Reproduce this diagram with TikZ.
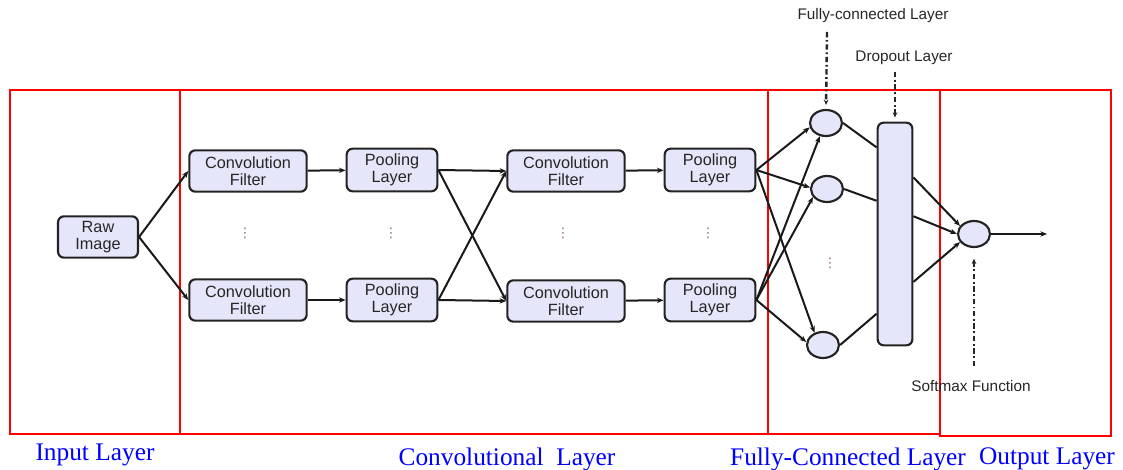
\documentclass[tikz,border=0pt]{standalone}
\usepackage{fontspec}
\setmainfont{Liberation Serif}
\setsansfont{Liberation Sans}
\newfontfamily\dotsfont{DejaVu Sans}
\usetikzlibrary{arrows.meta,shapes.geometric}

\definecolor{boxfill}{RGB}{230,230,250}
\definecolor{boxline}{RGB}{35,35,35}
\definecolor{dotcol}{RGB}{140,110,100}

\tikzset{every picture/.style={line width=0.75pt},
  block/.style={draw=boxline, line width=1.6pt, rounded corners=4.5pt, fill=boxfill,
    align=center, text=black!85, inner sep=0pt,
    font=\sffamily\fontsize{12.2}{12.75}\selectfont},
  neuron/.style={draw=boxline, line width=1.6pt, ellipse, fill=boxfill, inner sep=0pt,
    minimum width=24pt, minimum height=19.5pt},
  conn/.style={draw=black!90, line width=1.5pt, -{Stealth[length=5pt,width=4pt]}},
  link/.style={draw=black!90, line width=1.5pt},
  hint/.style={draw=black!85, line width=1.8pt, dash pattern={on 4pt off 2pt on 1.3pt off 2pt},
    -{Stealth[length=4pt,width=3.5pt]}},
  region/.style={draw=red, line width=0.9pt},
  caption/.style={text=blue, inner sep=0pt, font=\fontsize{19}{20}\selectfont},
  note/.style={text=black!85, inner sep=0pt, font=\sffamily\fontsize{11.5}{12}\selectfont},
  vdot/.style={text=dotcol, inner sep=0pt, font=\dotsfont\fontsize{10}{10}\selectfont}
}

\begin{document}
\begin{tikzpicture}[x=0.75pt,y=0.75pt,yscale=-1]
\useasboundingbox (0,0) rectangle (1123,470);

% layer frames
\draw[region] (10,90) rectangle (180,434);
\draw[region] (180,90) rectangle (768,434);
\draw[region] (768,90) rectangle (940,434);
\draw[region] (940,90) rectangle (1111,436);

% input
\node[block, minimum width=60pt, minimum height=31pt] (raw) at (98,237) {Raw\\Image};

% first convolution / pooling column
\node[block, minimum width=88pt, minimum height=31pt] (convA) at (248,171) {Convolution\\Filter};
\node[block, minimum width=88pt, minimum height=31pt] (convB) at (248,300) {Convolution\\Filter};
\node[block, minimum width=68pt, minimum height=32pt] (poolA) at (392,170) {Pooling\\Layer};
\node[block, minimum width=68pt, minimum height=32pt] (poolB) at (392,300) {Pooling\\Layer};

% second convolution / pooling column
\node[block, minimum width=88pt, minimum height=31pt] (convC) at (566,171) {Convolution\\Filter};
\node[block, minimum width=88pt, minimum height=31pt] (convD) at (566,301) {Convolution\\Filter};
\node[block, minimum width=68pt, minimum height=32pt] (poolC) at (710,170) {Pooling\\Layer};
\node[block, minimum width=68pt, minimum height=32pt] (poolD) at (710,300) {Pooling\\Layer};

% dots
\node[vdot] (dotsA) at (245,233) {⋮};
\node[vdot] (dotsB) at (391,233) {⋮};
\node[vdot] (dotsC) at (563,233) {⋮};
\node[vdot] (dotsD) at (708,233) {⋮};
\node[vdot] (dotsE) at (830,263) {⋮};

% fully connected part
\node[neuron] (fcA) at (826,123) {};
\node[neuron] (fcB) at (827,189) {};
\node[neuron] (fcC) at (823,345) {};
\node[block, minimum width=26pt, minimum height=167pt] (drop) at (895,234) {};
\node[neuron] (out) at (974,234) {};
\coordinate (outend) at (1047,234);

% Text Node
\node[note] (fclabel) at (873,16) {Fully-connected Layer};
\node[note] (droplabel) at (904,58) {Dropout Layer};
\node[note] (softlabel) at (971,386) {Softmax Function};
\coordinate (fcstart) at (827,32);
\coordinate (dropstart) at (895,72);
\coordinate (softstart) at (974,366);

\node[caption] (capin) at (95,455) {Input Layer};
\node[caption] (capconv) at (507,459) {Convolutional\ \ Layer};
\node[caption] (capfc) at (848,459) {Fully-Connected\ Layer};
\node[caption] (capout) at (1047,459) {Output Layer};

% connectors
\draw[conn] (raw.east) -- (convA.west);
\draw[conn] (raw.east) -- (convB.west);
\draw[conn] (convA) -- (poolA);
\draw[conn] (convB) -- (poolB);
\draw[conn] (poolA.east) -- (convC.west);
\draw[conn] (poolA.east) -- (convD.west);
\draw[conn] (poolB.east) -- (convC.west);
\draw[conn] (poolB.east) -- (convD.west);
\draw[conn] (convC) -- (poolC);
\draw[conn] (convD) -- (poolD);

\draw[conn] (poolC.east) -- (fcA.195);
\draw[conn] (poolC.east) -- (fcB.175);
\draw[conn] (poolC.east) -- (fcC.125);
\draw[conn] (poolD.east) -- (fcA.245);
\draw[conn] (poolD.east) -- (fcB.210);
\draw[conn] (poolD.east) -- (fcC.170);

\draw[link] (fcA.east) -- (drop.102);
\draw[link] (fcB.east) -- (drop.119);
\draw[link] (fcC.east) -- (drop.257);

\draw[conn] (drop.72) -- (out.150);
\draw[conn] (drop.44) -- (out.west);
\draw[conn] (drop.291) -- (out.210);
\draw[conn] (out.east) -- (outend);

\draw[hint, shorten >=3pt] (fcstart) -- (fcA.north);
\draw[hint, shorten >=3pt] (dropstart) -- (drop.north);
\draw[hint, shorten >=8pt] (softstart) -- (out.south);

\end{tikzpicture}
\end{document}
